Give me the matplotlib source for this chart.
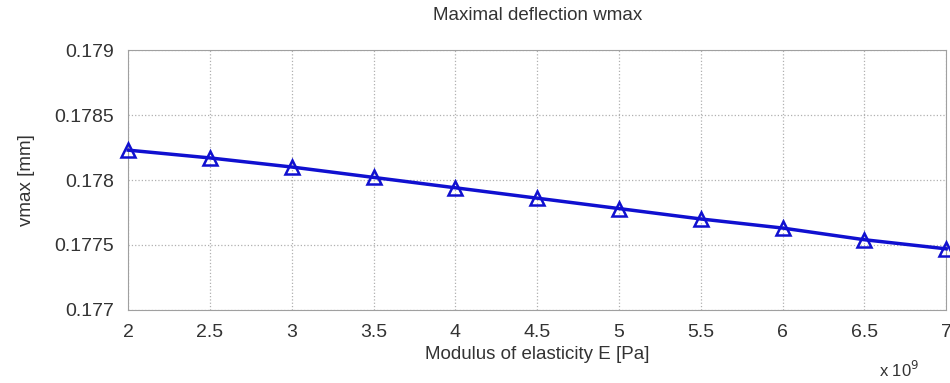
import matplotlib
matplotlib.use("Agg")
import matplotlib.pyplot as plt

E = [2, 2.5, 3, 3.5, 4, 4.5, 5, 5.5, 6, 6.5, 7]
wmax = [0.17823, 0.17817, 0.17810, 0.17802, 0.17794, 0.17786, 0.17778, 0.17770, 0.17763, 0.17754, 0.17747]
yticks = [0.177, 0.1775, 0.178, 0.1785, 0.179]
ytick_labels = ["0.177", "0.1775", "0.178", "0.1785", "0.179"]
xticks = [2, 2.5, 3, 3.5, 4, 4.5, 5, 5.5, 6, 6.5, 7]
xtick_labels = ["2", "2.5", "3", "3.5", "4", "4.5", "5", "5.5", "6", "6.5", "7"]

plt.rcParams['font.family'] = ['Liberation Sans', 'DejaVu Sans']
fig = plt.figure(figsize=(9.5, 3.83), dpi=100)
ax = fig.add_axes([0.135, 0.191, 0.861, 0.678])
ax.plot(E, wmax, color='#1010d0', lw=2.5, marker='^', markersize=10,
        markerfacecolor='none', markeredgecolor='#1010d0', markeredgewidth=1.8, clip_on=False, zorder=3)
ax.set_xlim(2, 7)
ax.set_ylim(0.177, 0.179)
ax.set_xticks(xticks)
ax.set_xticklabels(xtick_labels)
ax.set_yticks(yticks)
ax.set_yticklabels(ytick_labels)
ax.grid(True, linestyle=':', color='#b0b0b0', lw=0.9)
for s in ax.spines.values():
    s.set_color('#a0a0a0')
ax.tick_params(axis='x', labelsize=14, colors='#333333', length=0, pad=10)
ax.tick_params(axis='y', labelsize=14, colors='#333333', length=0, pad=10)
ax.set_title("Maximal deflection wmax", fontsize=13.5, color='#333333', pad=22)
ax.set_xlabel("Modulus of elasticity E [Pa]", fontsize=13.5, color='#333333', labelpad=4)
ax.set_ylabel("vmax [mm]", fontsize=13.5, color='#333333', labelpad=14)
fig.text(0.925, 0.015, r"x 10$^9$", fontsize=12, color='#333333')
fig.savefig("out.png", dpi=100)
